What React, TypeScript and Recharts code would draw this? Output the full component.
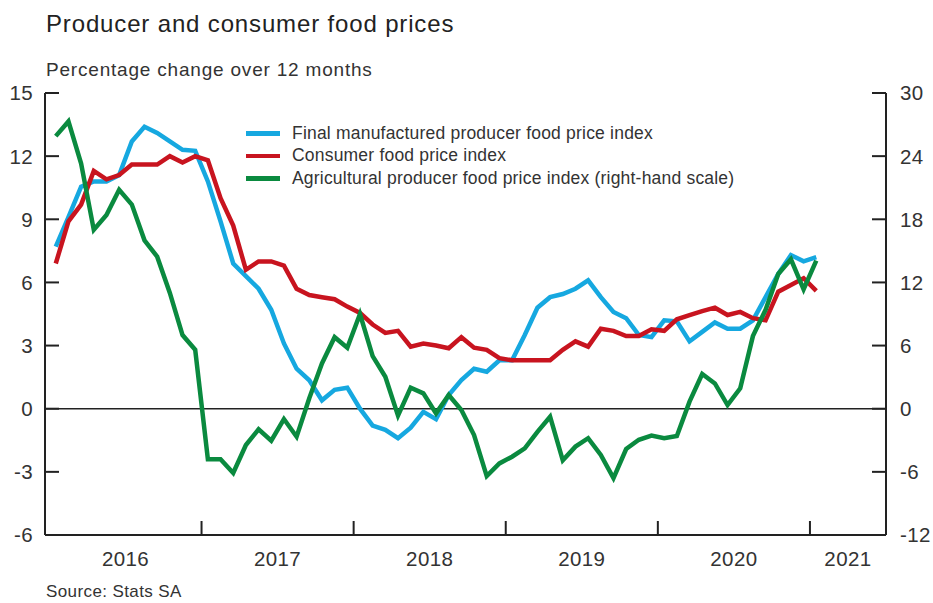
import React from "react";
import { LineChart, Line, XAxis, YAxis, ReferenceLine, Legend } from "recharts";

const FONT = '"Liberation Sans", Arial, Helvetica, sans-serif';
const TEXT = "#333";
const FRAME = "#222";

// one entry per month, Jan 2016 .. Jan 2021
const years = [2016, 2017, 2018, 2019, 2020];
const monthNames = ["Jan", "Feb", "Mar", "Apr", "May", "Jun", "Jul", "Aug", "Sep", "Oct", "Nov", "Dec"];
const months: string[] = [];
years.forEach((y) => monthNames.forEach((m) => months.push(`${m} ${y}`)));
months.push("Jan 2021");

// Final manufactured producer food price index (%)
const finalManufactured = [
  7.7, 9.1, 10.55, 10.8, 10.8, 11.1, 12.7, 13.4, 13.1, 12.7, 12.3, 12.25,
  10.8, 8.9, 6.9, 6.3, 5.7, 4.7, 3.1, 1.9, 1.35, 0.4, 0.9, 1.0,
  0.0, -0.8, -1.0, -1.4, -0.9, -0.15, -0.5, 0.65, 1.36, 1.9, 1.76, 2.3,
  2.3, 3.5, 4.8, 5.3, 5.45, 5.7, 6.1, 5.3, 4.6, 4.3, 3.5, 3.4,
  4.2, 4.15, 3.2, 3.65, 4.1, 3.8, 3.8, 4.2, 5.3, 6.4, 7.3, 7.0,
  7.2,
];

// Consumer food price index (%)
const consumerFood = [
  6.9, 8.9, 9.7, 11.3, 10.9, 11.1, 11.6, 11.6, 11.6, 12.0, 11.7, 12.0,
  11.8, 10.0, 8.7, 6.6, 7.0, 7.0, 6.8, 5.7, 5.4, 5.3, 5.2, 4.85,
  4.55, 4.0, 3.6, 3.7, 2.95, 3.1, 3.0, 2.87, 3.4, 2.9, 2.8, 2.4,
  2.3, 2.3, 2.3, 2.3, 2.8, 3.2, 2.95, 3.8, 3.7, 3.45, 3.45, 3.77,
  3.7, 4.25, 4.45, 4.64, 4.8, 4.45, 4.6, 4.3, 4.2, 5.56, 5.88, 6.2,
  5.6,
];

// Agricultural producer food price index (%, right-hand scale)
const agricultural = [
  25.9, 27.3, 23.3, 17.0, 18.4, 20.8, 19.4, 16.0, 14.45, 11.0, 7.0, 5.6,
  -4.8, -4.8, -6.1, -3.45, -1.96, -3.04, -0.98, -2.66, 1.0, 4.3, 6.8, 5.8,
  9.0, 5.0, 3.04, -0.66, 2.0, 1.46, -0.44, 1.3, -0.12, -2.5, -6.4, -5.2,
  -4.56, -3.77, -2.2, -0.76, -4.9, -3.6, -2.8, -4.4, -6.6, -3.83, -2.95, -2.55,
  -2.8, -2.6, 0.67, 3.3, 2.4, 0.35, 1.94, 6.9, 9.4, 12.8, 14.2, 11.35,
  14.07,
];

const seriesNames = [
  "Final manufactured producer food price index",
  "Consumer food price index",
  "Agricultural producer food price index (right-hand scale)",
];

const leftTicks = [-6, -3, 0, 3, 6, 9, 12, 15];
const rightTicks = [-12, -6, 0, 6, 12, 18, 24, 30];
// year boundaries (tick marks) and year label positions, in months from Jan 2016
const yearBoundaries = [12, 24, 36, 48, 60];
const yearLabels: Record<number, string> = { 6: "2016", 18: "2017", 30: "2018", 42: "2019", 54: "2020", 63: "2021" };
const xTicks = [6, 12, 18, 24, 30, 36, 42, 48, 54, 60, 63];

const data = months.map((m, i) => ({
  month: m,
  t: i + 0.5,
  fmp: finalManufactured[i],
  cpi: consumerFood[i],
  agri: agricultural[i],
}));

const tickText = { fontFamily: FONT, fontSize: 20.5, fill: TEXT, letterSpacing: 0.4 };

const LeftTick = ({ x, y, payload }: any) => (
  <g>
    <line x1={x} x2={x + 14} y1={y} y2={y} stroke={FRAME} strokeWidth={2} />
    <text x={x - 12} y={y} dy="0.36em" textAnchor="end" style={tickText}>
      {payload.value}
    </text>
  </g>
);

const RightTick = ({ x, y, payload }: any) => (
  <g>
    <line x1={x} x2={x - 14} y1={y} y2={y} stroke={FRAME} strokeWidth={2} />
    <text x={x + 14} y={y} dy="0.36em" textAnchor="start" style={tickText}>
      {payload.value}
    </text>
  </g>
);

const BottomTick = ({ x, y, payload }: any) => {
  if (yearBoundaries.includes(payload.value)) {
    return <line x1={x} x2={x} y1={y} y2={y - 14} stroke={FRAME} strokeWidth={2} />;
  }
  return (
    <text x={x} y={y + 31} textAnchor="middle" style={tickText}>
      {yearLabels[payload.value]}
    </text>
  );
};

const renderLegend = (props: any) => {
  const items = [...props.payload].sort(
    (a: any, b: any) => seriesNames.indexOf(a.value) - seriesNames.indexOf(b.value)
  );
  return (
    <div style={{ fontFamily: FONT, fontSize: 17.5, color: TEXT, letterSpacing: 0.2 }}>
      {items.map((entry: any) => (
        <div key={entry.value} style={{ display: "flex", alignItems: "center", height: 22.5 }}>
          <span style={{ display: "inline-block", width: 34, height: 4.5, background: entry.color, marginRight: 12 }} />
          <span style={{ whiteSpace: "nowrap" }}>{entry.value}</span>
        </div>
      ))}
    </div>
  );
};

export default function App() {
  return (
    <div style={{ position: "absolute", left: 0, top: 0, width: 933, height: 603, background: "#fff" }}>
      <div
        style={{
          position: "absolute", left: 46, top: 12, fontFamily: FONT, fontSize: 24,
          lineHeight: "24px", color: "#222", letterSpacing: 0.85, whiteSpace: "nowrap",
        }}
      >
        Producer and consumer food prices
      </div>
      <div
        style={{
          position: "absolute", left: 46, top: 60, fontFamily: FONT, fontSize: 19,
          lineHeight: "19px", color: TEXT, letterSpacing: 0.8, whiteSpace: "nowrap",
        }}
      >
        Percentage change over 12 months
      </div>
      <LineChart width={933} height={603} data={data} margin={{ top: 93, right: 0, bottom: 0, left: 0 }}>
        <XAxis
          dataKey="t"
          type="number"
          domain={[-0.35, 66]}
          ticks={xTicks}
          interval={0}
          height={68}
          tickSize={0}
          tickMargin={0}
          tick={<BottomTick />}
          axisLine={{ stroke: FRAME, strokeWidth: 2 }}
          allowDataOverflow
        />
        <XAxis
          xAxisId="top"
          orientation="top"
          dataKey="t"
          type="number"
          domain={[-0.35, 66]}
          height={0}
          tick={false}
          tickLine={false}
          axisLine={{ stroke: FRAME, strokeWidth: 2 }}
          allowDataOverflow
        />
        <YAxis
          yAxisId="left"
          width={45}
          domain={[-6, 15]}
          ticks={leftTicks}
          interval={0}
          tickSize={0}
          tickMargin={0}
          tick={<LeftTick />}
          axisLine={{ stroke: FRAME, strokeWidth: 2 }}
          allowDataOverflow
        />
        <YAxis
          yAxisId="right"
          orientation="right"
          width={47}
          domain={[-12, 30]}
          ticks={rightTicks}
          interval={0}
          tickSize={0}
          tickMargin={0}
          tick={<RightTick />}
          axisLine={{ stroke: FRAME, strokeWidth: 2 }}
          allowDataOverflow
        />
        <ReferenceLine yAxisId="left" y={0} stroke={FRAME} strokeWidth={1.5} />
        <Legend
          layout="vertical"
          verticalAlign="middle"
          align="center"
          content={renderLegend}
          wrapperStyle={{ left: 246, top: 122, width: 520, height: 70 }}
        />
        <Line
          yAxisId="left"
          dataKey="fmp"
          name={seriesNames[0]}
          stroke="#16a8e0"
          strokeWidth={4.5}
          dot={false}
          type="linear"
          isAnimationActive={false}
        />
        <Line
          yAxisId="left"
          dataKey="cpi"
          name={seriesNames[1]}
          stroke="#c8141f"
          strokeWidth={4.5}
          dot={false}
          type="linear"
          isAnimationActive={false}
        />
        <Line
          yAxisId="right"
          dataKey="agri"
          name={seriesNames[2]}
          stroke="#0a8a3f"
          strokeWidth={4.5}
          dot={false}
          type="linear"
          isAnimationActive={false}
        />
      </LineChart>
      <div
        style={{
          position: "absolute", left: 46, top: 583, fontFamily: FONT, fontSize: 17,
          lineHeight: "17px", color: TEXT, letterSpacing: 0.4, whiteSpace: "nowrap",
        }}
      >
        Source: Stats SA
      </div>
    </div>
  );
}
